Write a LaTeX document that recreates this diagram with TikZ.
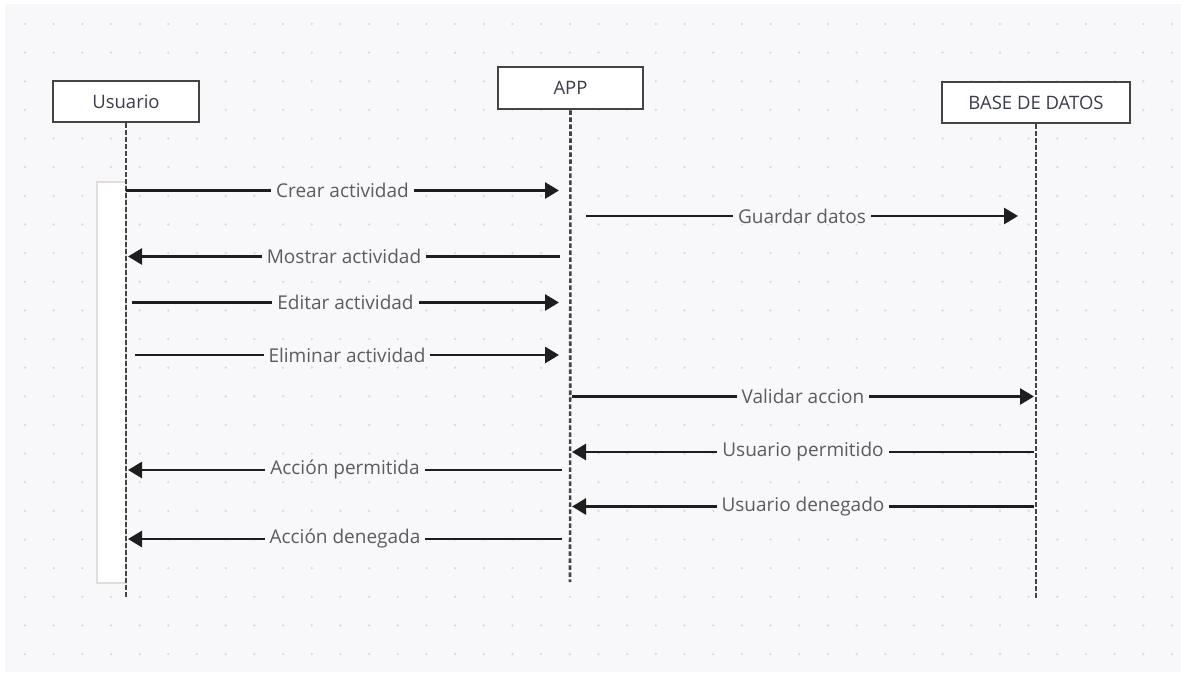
\documentclass[tikz,border=0pt]{standalone}
\usepackage{fontspec}
\setmainfont{Open Sans}
\usetikzlibrary{arrows.meta}
\definecolor{bg}{HTML}{F8F8FA}
\definecolor{dotc}{HTML}{D9D9DE}
\definecolor{boxline}{HTML}{444444}
\definecolor{boxtext}{HTML}{3C3C50}
\definecolor{lbltext}{HTML}{5C5C5C}
\definecolor{msgline}{HTML}{1E1E1E}
\definecolor{actline}{HTML}{E2DCDE}
\tikzset{
  actor/.style={draw=boxline, line width=2.6pt, fill=white, minimum height=41pt,
    inner sep=0pt, text=boxtext, font=\fontsize{18.5}{22}\selectfont},
  life/.style={draw=boxline, line width=2.6pt, dash pattern=on 4.5pt off 2.5pt},
  msg/.style={draw=msgline, line width=2.6pt, -{Triangle[length=14pt,width=16pt]}},
  lbl/.style={fill=bg, inner xsep=5pt, inner ysep=1pt, text=lbltext,
    font=\fontsize{19}{22}\selectfont},
  activ/.style={draw=actline, line width=1.2pt, fill=white, inner sep=0pt}
}
\begin{document}
\begin{tikzpicture}[x=1pt,y=-1pt]
\useasboundingbox (0,0) rectangle (1181,676);
\fill[white] (0,0) rectangle (1181,676);
\fill[bg] (5,4) rectangle (1181,672);
\foreach \i in {0,...,40} {
  \foreach \j in {0,...,22} {
    \fill[dotc] (25+\i*28.675, 24+\j*28.64) circle (1.25pt);
  }
}
% activation bar
\node[activ, minimum width=29pt, minimum height=401pt] (act) at (111.5,382.5) {};
% actors
\node[actor, minimum width=146pt] (usr) at (126,101.5) {Usuario};
\node[actor, minimum width=145pt, minimum height=42pt] (app) at (570.5,88) {APP};
\node[actor, minimum width=188pt] (db) at (1036,102.5) {BASE DE DATOS};
% lifeline ends
\coordinate (usrEnd) at (126,598);
\coordinate (appEnd) at (570,582);
\coordinate (dbEnd) at (1036,598);
\draw[life] (usr.south) -- (usrEnd);
\draw[life] (app.south) -- (appEnd);
\draw[life] (db.south) -- (dbEnd);
% message endpoints
\coordinate (m1a) at (126,190.5);  \coordinate (m1b) at (559,190.5);
\coordinate (m2a) at (586,216);    \coordinate (m2b) at (1018,216);
\coordinate (m3a) at (560,256.5);  \coordinate (m3b) at (128,256.5);
\coordinate (m4a) at (132,302.5);  \coordinate (m4b) at (559,302.5);
\coordinate (m5a) at (135,355);    \coordinate (m5b) at (559,355);
\coordinate (m6a) at (572,396.5);  \coordinate (m6b) at (1034,396.5);
\coordinate (m7a) at (1034,452);   \coordinate (m7b) at (572,452);
\coordinate (m8a) at (562,470);    \coordinate (m8b) at (128,470);
\coordinate (m9a) at (1034,506.5); \coordinate (m9b) at (572,506.5);
\coordinate (m10a) at (562,539);   \coordinate (m10b) at (128,539);
\draw[msg] (m1a) -- node[lbl] (l1) {Crear actividad} (m1b);
\draw[msg] (m2a) -- node[lbl] (l2) {Guardar datos} (m2b);
\draw[msg] (m3a) -- node[lbl] (l3) {Mostrar actividad} (m3b);
\draw[msg] (m4a) -- node[lbl] (l4) {Editar actividad} (m4b);
\draw[msg] (m5a) -- node[lbl] (l5) {Eliminar actividad} (m5b);
\draw[msg] (m6a) -- node[lbl] (l6) {Validar accion} (m6b);
\draw[msg] (m7a) -- node[lbl] (l7) {Usuario permitido} (m7b);
\draw[msg] (m8a) -- node[lbl] (l8) {Acción permitida} (m8b);
\draw[msg] (m9a) -- node[lbl] (l9) {Usuario denegado} (m9b);
\draw[msg] (m10a) -- node[lbl] (l10) {Acción denegada} (m10b);
\end{tikzpicture}
\end{document}
